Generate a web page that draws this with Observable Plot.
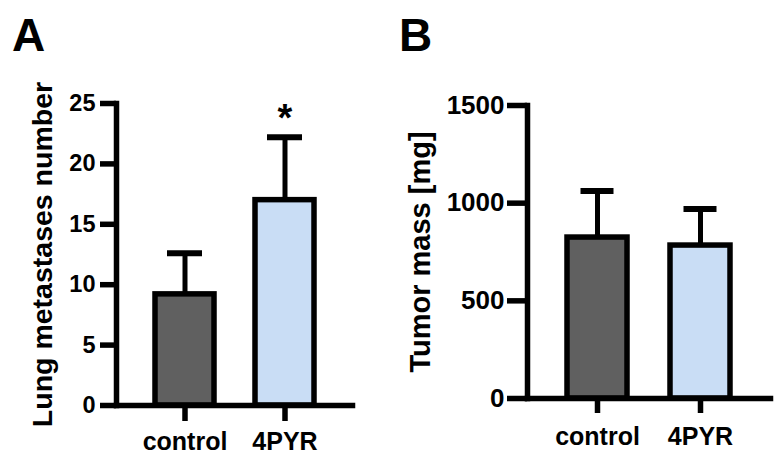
<!DOCTYPE html>
<html><head><meta charset="utf-8">
<script src="https://cdn.jsdelivr.net/npm/d3@7"></script>
<script src="https://cdn.jsdelivr.net/npm/@observablehq/plot@0.6"></script>
<style>
body{margin:0;background:#fff;}
#wrap{position:relative;width:784px;height:462px;display:flex;font-family:"Liberation Sans",Arial,sans-serif;font-weight:bold;}
.letter{position:absolute;font-size:46px;line-height:46px;font-weight:bold;color:#000;}
.pa [aria-label="y-axis tick label"]{font-size:23.5px;}
.pb [aria-label="y-axis tick label"]{font-size:26px;}
.pa [aria-label="x-axis tick label"], .pb [aria-label="x-axis tick label"]{font-size:25px;}
.pa [aria-label="y-axis label"]{font-size:28.5px;}
.pb [aria-label="y-axis label"]{font-size:29px;}
</style>
</head><body>
<div id="wrap">
  <div class="letter" style="left:12px;top:12px;">A</div>
  <div class="letter" style="left:399px;top:12px;">B</div>
</div>
<script>
const groups = ["control", "4PYR"];
const metMean = [9.2, 17.0];
const metUpper = [12.6, 22.2];
const massMean = [824, 783];
const massUpper = [1062, 970];
const barColors = ["#606060", "#c9ddf5"];
const significance = ["", "*"];
const metTicks = [0, 5, 10, 15, 20, 25];
const massTicks = [0, 500, 1000, 1500];

const dataA = groups.map((g, i) => ({group: g, mean: metMean[i], upper: metUpper[i], color: barColors[i], sig: significance[i]}));
const dataB = groups.map((g, i) => ({group: g, mean: massMean[i], upper: massUpper[i], color: barColors[i]}));

const style = {fontFamily: "'Liberation Sans', Arial, sans-serif", fontWeight: "bold", color: "#000", background: "transparent", overflow: "visible"};
const fmt = d => String(d);

const plotA = Plot.plot({
  width: 392, height: 462, marginLeft: 116, marginRight: 40, marginTop: 103, marginBottom: 57,
  className: "pa", style,
  x: {domain: groups, paddingInner: 0.415, paddingOuter: 0.3875, label: null},
  y: {domain: [0, 25]},
  color: {type: "identity"},
  marks: [
    Plot.ruleX(dataA, {x: "group", y1: "mean", y2: "upper", strokeWidth: 5}),
    Plot.tickY(dataA, {x: "group", y: "upper", strokeWidth: 6, insetLeft: 12, insetRight: 12}),
    Plot.barY(dataA, {x: "group", y: "mean", fill: "color", stroke: "#000", strokeWidth: 5.5}),
    Plot.text(dataA, {x: "group", y: "upper", text: "sig", dy: -18, fontSize: 38}),
    Plot.frame({anchor: "left", strokeWidth: 5.5, strokeLinecap: "square"}),
    Plot.frame({anchor: "bottom", strokeWidth: 5.5}),
    Plot.axisY({ticks: metTicks, tickFormat: fmt, tickSize: 16, tickPadding: 5, strokeWidth: 5.5, label: "Lung metastases number", labelArrow: "none", labelAnchor: "center", labelOffset: 85}),
    Plot.axisX({tickSize: 16, tickPadding: 11, strokeWidth: 5.5, label: null})
  ]
});

const plotB = Plot.plot({
  width: 392, height: 462, marginLeft: 135, marginRight: 14, marginTop: 105, marginBottom: 64,
  className: "pb", style,
  x: {domain: groups, paddingInner: 0.413, paddingOuter: 0.375, label: null},
  y: {domain: [0, 1500]},
  color: {type: "identity"},
  marks: [
    Plot.ruleX(dataB, {x: "group", y1: "mean", y2: "upper", strokeWidth: 5}),
    Plot.tickY(dataB, {x: "group", y: "upper", strokeWidth: 6, insetLeft: 13.5, insetRight: 13.5}),
    Plot.barY(dataB, {x: "group", y: "mean", fill: "color", stroke: "#000", strokeWidth: 5.5}),
    Plot.frame({anchor: "left", strokeWidth: 5.5, strokeLinecap: "square"}),
    Plot.frame({anchor: "bottom", strokeWidth: 5.5}),
    Plot.axisY({ticks: massTicks, tickFormat: fmt, tickSize: 20, tickPadding: 3, strokeWidth: 5.5, label: "Tumor mass [mg]", labelArrow: "none", labelAnchor: "center", labelOffset: 118}),
    Plot.axisX({tickSize: 15, tickPadding: 14, strokeWidth: 5.5, label: null})
  ]
});

const wrap = document.getElementById("wrap");
wrap.appendChild(plotA);
wrap.appendChild(plotB);
</script>
</body></html>
